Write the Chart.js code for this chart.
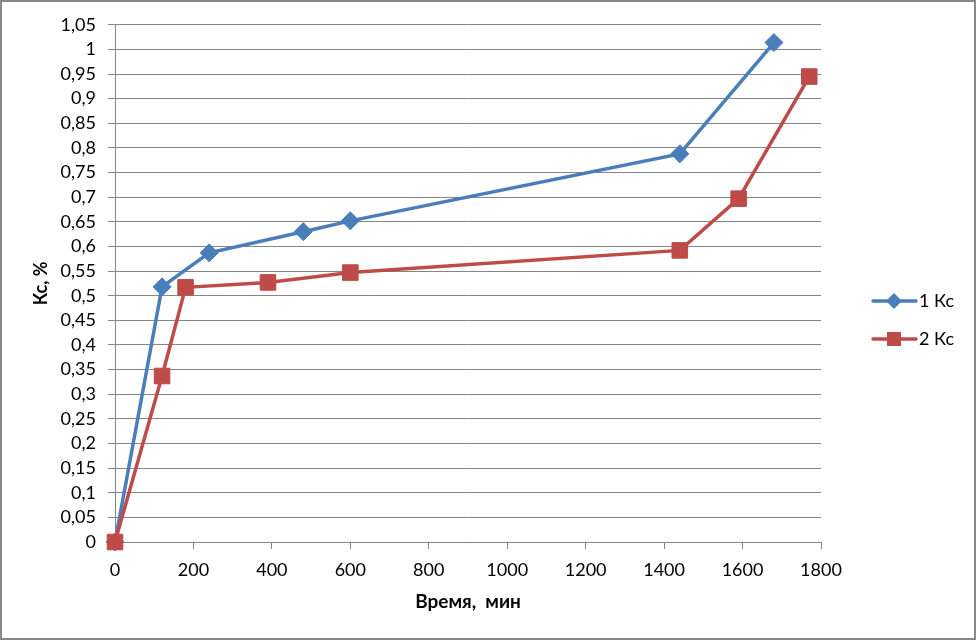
<!DOCTYPE html>
<html lang="ru">
<head>
<meta charset="UTF-8">
<title>Кс от времени</title>
<script src="https://cdn.jsdelivr.net/npm/chart.js"></script>
<style>
    html, body { margin: 0; padding: 0; background: #fff; }
    #frame {
        position: absolute; left: 0; top: 0;
        width: 972px; height: 636px;
        border: 2px solid #898989;
        background: #fff;
    }
</style>
</head>
<body>

<div id="frame">
    <canvas id="kcChart" width="972" height="636"></canvas>
</div>

<script>
// данные
const time1 = [0, 120, 240, 480, 600, 1440, 1680];
const kc1 = [0, 0.518, 0.587, 0.630, 0.652, 0.788, 1.014];

const time2 = [0, 120, 180, 390, 600, 1440, 1590, 1770];
const kc2 = [0, 0.337, 0.517, 0.527, 0.547, 0.592, 0.697, 0.945];

const seriesNames = ["1 Кс", "2 Кс"];
const xTitle = "Время,  мин";
const yTitle = "Кс, %";

const BLUE = "#4a7ebb";
const RED = "#be4b48";
const GRID = "#868686";
const FONT = "Lato, 'Open Sans', sans-serif";

function toPoints(xs, ys) {
    return xs.map((x, i) => ({ x: x, y: ys[i] }));
}

// легенда справа: линия + маркер + подпись
const sideLegend = {
    id: "sideLegend",
    afterDraw(chart) {
        const ctx = chart.ctx;
        const x0 = chart.chartArea.right + 52;
        const items = [
            { name: seriesNames[0], color: BLUE, shape: "diamond", y: 299 },
            { name: seriesNames[1], color: RED, shape: "square", y: 337 }
        ];
        ctx.save();
        items.forEach(it => {
            ctx.strokeStyle = it.color;
            ctx.lineWidth = 3.5;
            ctx.lineCap = "round";
            ctx.beginPath();
            ctx.moveTo(x0, it.y);
            ctx.lineTo(x0 + 43, it.y);
            ctx.stroke();

            ctx.fillStyle = it.color;
            const cx = x0 + 21;
            ctx.beginPath();
            if (it.shape === "diamond") {
                ctx.moveTo(cx, it.y - 8);
                ctx.lineTo(cx + 8, it.y);
                ctx.lineTo(cx, it.y + 8);
                ctx.lineTo(cx - 8, it.y);
                ctx.closePath();
            } else {
                ctx.rect(cx - 7, it.y - 7, 14, 14);
            }
            ctx.fill();

            ctx.fillStyle = "#000";
            ctx.font = "18px " + FONT;
            ctx.textBaseline = "middle";
            ctx.textAlign = "left";
            ctx.fillText(it.name, x0 + 46, it.y);
        });
        ctx.restore();
    }
};

const ctx = document.getElementById("kcChart").getContext("2d");

new Chart(ctx, {
    type: "line",
    data: {
        datasets: [
            {
                label: seriesNames[0],
                data: toPoints(time1, kc1),
                borderColor: BLUE,
                backgroundColor: BLUE,
                borderWidth: 3.5,
                pointStyle: "rectRot",
                pointRadius: 9,
                pointBorderWidth: 1,
                tension: 0,
                clip: false,
                order: 2
            },
            {
                label: seriesNames[1],
                data: toPoints(time2, kc2),
                borderColor: RED,
                backgroundColor: RED,
                borderWidth: 3.5,
                pointStyle: "rect",
                pointRadius: 11,
                pointBorderWidth: 1,
                tension: 0,
                clip: false,
                order: 1
            }
        ]
    },
    options: {
        responsive: false,
        animation: false,
        layout: { padding: { left: 0, top: 22, right: 153, bottom: 0 } },
        plugins: {
            legend: { display: false },
            tooltip: { enabled: false }
        },
        scales: {
            x: {
                type: "linear",
                min: 0,
                max: 1800,
                afterFit: (scale) => { scale.height = 96; },
                ticks: {
                    stepSize: 200,
                    padding: 10,
                    color: "#000",
                    font: { family: FONT, size: 18 },
                    maxRotation: 0,
                    callback: (v) => String(v)
                },
                grid: {
                    drawOnChartArea: false,
                    drawTicks: true,
                    tickLength: 7,
                    color: GRID
                },
                border: { display: true, color: GRID, width: 1 },
                title: {
                    display: true,
                    text: xTitle,
                    color: "#000",
                    font: { family: FONT, size: 19, weight: "bold" },
                    padding: { top: 0, bottom: 25 }
                }
            },
            y: {
                min: 0,
                max: 1.05,
                afterFit: (scale) => { scale.width = 113; },
                ticks: {
                    stepSize: 0.05,
                    padding: 12,
                    color: "#000",
                    font: { family: FONT, size: 18 },
                    callback: (v) => String(Number(v.toFixed(2))).replace(".", ",")
                },
                grid: {
                    color: GRID,
                    tickLength: 7,
                    lineWidth: 1
                },
                border: { display: true, color: GRID, width: 1 },
                title: {
                    display: true,
                    text: yTitle,
                    color: "#000",
                    font: { family: FONT, size: 18, weight: "bold" },
                    padding: { top: 28, bottom: 0 }
                }
            }
        }
    },
    plugins: [sideLegend]
});
</script>
</body>
</html>
